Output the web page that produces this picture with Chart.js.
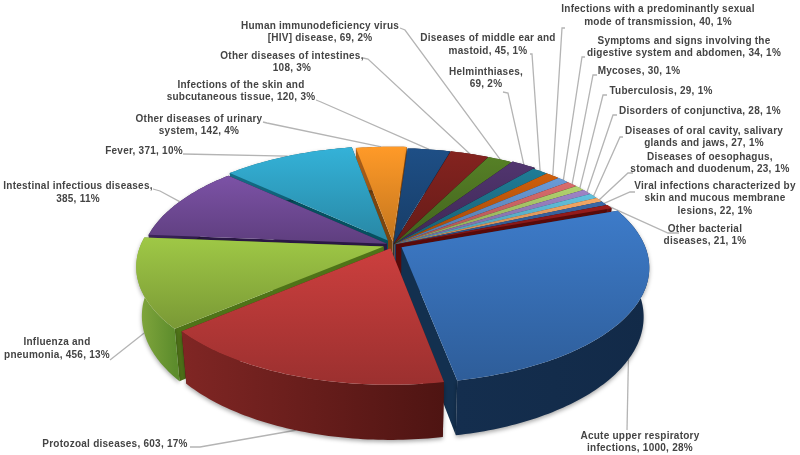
<!DOCTYPE html>
<html><head><meta charset="utf-8">
<script src="https://cdn.jsdelivr.net/npm/chart.js@4"></script>
<style>html,body{margin:0;padding:0;background:#fff}#c{display:block;filter:blur(0.35px)}</style>
</head><body><canvas id="c" width="800" height="455"></canvas>
<script>
const categories = ["Acute upper respiratory infections","Protozoal diseases","Influenza and pneumonia","Intestinal infectious diseases","Fever","Other diseases of urinary system","Infections of the skin and subcutaneous tissue","Other diseases of intestines","Human immunodeficiency virus [HIV] disease","Helminthiases","Diseases of middle ear and mastoid","Infections with a predominantly sexual mode of transmission","Symptoms and signs involving the digestive system and abdomen","Mycoses","Tuberculosis","Disorders of conjunctiva","Diseases of oral cavity, salivary glands and jaws","Diseases of oesophagus, stomach and duodenum","Viral infections characterized by skin and mucous membrane lesions","Other bacterial diseases"];
const values = [1000,603,456,385,371,142,120,108,69,69,45,40,34,30,29,28,27,23,22,21];
const labelLines = [
 ["Acute upper respiratory","infections, 1000, 28%"],
 ["Protozoal diseases, 603, 17%"],
 ["Influenza and","pneumonia, 456, 13%"],
 ["Intestinal infectious diseases,","385, 11%"],
 ["Fever, 371, 10%"],
 ["Other diseases of urinary","system, 142, 4%"],
 ["Infections of the skin and","subcutaneous tissue, 120, 3%"],
 ["Other diseases of intestines,","108, 3%"],
 ["Human immunodeficiency virus","[HIV] disease, 69, 2%"],
 ["Helminthiases,","69, 2%"],
 ["Diseases of middle ear and","mastoid, 45, 1%"],
 ["Infections with a predominantly sexual","mode of transmission, 40, 1%"],
 ["Symptoms and signs involving the","digestive system and abdomen, 34, 1%"],
 ["Mycoses, 30, 1%"],
 ["Tuberculosis, 29, 1%"],
 ["Disorders of conjunctiva, 28, 1%"],
 ["Diseases of oral cavity, salivary","glands and jaws, 27, 1%"],
 ["Diseases of oesophagus,","stomach and duodenum, 23, 1%"],
 ["Viral infections characterized by","skin and mucous membrane","lesions, 22, 1%"],
 ["Other bacterial","diseases, 21, 1%"]
];
// styles
const sliceColors = ["#3d7bc9","#cc3f3e","#9fc846","#7c52a6","#34b2d8","#ff9a28","#1e4f86","#84231f","#568026","#51356f","#1f7c96","#cf5f0c","#6a9bd8","#da6c6c","#b2d26e","#9e84c6","#62c2de","#f6a865","#3a68a8","#9a1c1c"];
const wallTints = [[20,46,78,18,42,72],[128,38,36,78,20,18],[132,168,62,92,140,44],[60,36,90,40,24,66],[20,110,135,10,80,100],[170,95,25,120,65,15],[18,48,82,12,36,62],[90,24,22,60,16,14],[60,90,28,40,64,18],[56,36,78,40,26,56],[20,84,100,14,60,72],[140,64,10,100,46,6],[70,105,145,50,76,110],[150,72,72,110,50,50],[120,142,74,90,106,54],[106,88,134,78,64,100],[66,130,150,48,96,112],[166,112,66,122,82,48],[38,70,112,28,50,84],[110,16,16,80,10,10]];
const cutWall = ["#13304f","#5a1614","#4f7318","#2a1844","#06505f","#7a4510","#10294a","#4c1210","#30481a","#2b1b40","#0f4a58","#7c3906","#38587f","#7e3c3c","#64763c","#564676","#347890","#91623a","#1f3a62","#580a0a"];
const pieOffsets = [9,7,9,6,10,7,3,3,3,5,2,2,2,2,2,2,2,2,2,3];
const rotationDeg = 70;
// label layout: centre x, first baseline y per line
const labelPos = [[640,[439,451]],[115,[447]],[57,[345,358]],[78,[189,202]],[144,[154]],[199,[122,134]],[241,[88,100]],[292,[59,71]],[320,[29,41]],[486,[75,87]],[488,[41,54]],[658,[12,25]],[684,[44,56]],[639,[74]],[661,[94]],[700,[114]],[704,[134,146]],[710,[160,172]],[715,[189,201,214]],[705,[232,244]]];
// leader polylines: anchors near text, then ending on the slice rim
const leaderAnchors = [[[627,430]],[[190,447],[200,447]],[[110,360]],[[153,189],[160,191]],[[183,154]],[[263,122],[267,123]],[[316,100],[321,102]],[[363,58],[368,59]],[[400,28],[405,30]],[[503,92],[508,93]],[[530,54],[532,54]],[[565,28],[562,28]],[[585,57],[582,57]],[[597,75],[593,75]],[[607,95],[603,95]],[[617,115],[613,115]],[[623,137],[620,137]],[[633,173],[628,173]],[[635,192],[630,192]],[[679,233],[668,233]]];
const view = {cx:393,cy:245,A:243,B:112,p:0.17,q:0.022,H:48};

function project(x,z,h){
  const s=1/(1-view.p*z),k=1-view.q*h;
  return [view.cx+view.A*x*s*k, view.cy+view.B*z*s*k+view.H*h*s];
}
function hex2rgb(c){return [1,3,5].map(i=>parseInt(c.substr(i,2),16));}
function shade(c,f){return 'rgb('+hex2rgb(c).map(v=>Math.round(v*f)).join(',')+')';}
function pathOf(ctx,pts){ctx.beginPath();pts.forEach((p,i)=>i?ctx.lineTo(p[0],p[1]):ctx.moveTo(p[0],p[1]));ctx.closePath();}

const pie3d={
  id:'pie3d',
  beforeDatasetsDraw(chart){
    const ctx=chart.ctx, arcs=chart.getDatasetMeta(0).data;
    const slices=arcs.map((el,i)=>{
      const pr=el.getProps(['startAngle','endAngle','outerRadius'],true);
      const off=el.options.offset/pr.outerRadius, mid=(pr.startAngle+pr.endAngle)/2;
      const ox=off*Math.cos(mid), oz=off*Math.sin(mid);
      return {i,a0:pr.startAngle,a1:pr.endAngle,mid,ox,oz,depth:0.66*Math.sin(mid)+oz};
    });
    chart.$slices=slices;
    // leaders sit behind the pie
    ctx.save();ctx.strokeStyle='#b4b4b4';ctx.lineWidth=1.3;
    slices.forEach(s=>{
      const h=s.i<3?1:0;
      const end=project(s.ox+Math.cos(s.mid),s.oz+Math.sin(s.mid),h);
      ctx.beginPath();
      leaderAnchors[s.i].forEach((p,j)=>j?ctx.lineTo(p[0],p[1]):ctx.moveTo(p[0],p[1]));
      ctx.lineTo(end[0],end[1]);ctx.stroke();
    });
    ctx.restore();
    slices.slice().sort((a,b)=>a.depth-b.depth).forEach(s=>drawSlice(ctx,s));
    return false;
  },
  afterDraw(chart){
    const ctx=chart.ctx;
    ctx.save();ctx.font='bold 10px "Liberation Sans"';ctx.fillStyle='#444';ctx.textAlign='center';ctx.textBaseline='alphabetic';
    if('letterSpacing' in ctx) ctx.letterSpacing='0.25px';
    labelLines.forEach((lines,i)=>lines.forEach((t,j)=>ctx.fillText(t,labelPos[i][0],labelPos[i][1][j])));
    ctx.restore();
  }
};
function drawSlice(ctx,s){
  const n=Math.max(4,Math.ceil((s.a1-s.a0)/(Math.PI/180)));
  const top=[],bot=[];
  for(let k=0;k<=n;k++){
    const a=s.a0+(s.a1-s.a0)*k/n, x=s.ox+Math.cos(a), z=s.oz+Math.sin(a);
    top.push(project(x,z,0));bot.push(project(x,z,1));
  }
  const at=project(s.ox,s.oz,0),ab=project(s.ox,s.oz,1);
  const col=sliceColors[s.i],t=wallTints[s.i];
  ctx.save();
  // radial walls
  ctx.fillStyle=cutWall[s.i];
  pathOf(ctx,[at,top[0],bot[0],ab]);ctx.fill();
  pathOf(ctx,[at,top[n],bot[n],ab]);ctx.fill();
  // outer wall
  const xs=top.map(p=>p[0]),x0=Math.min(...xs),x1=Math.max(...xs);
  const g=ctx.createLinearGradient(x0,0,x1+1,0);
  g.addColorStop(0,`rgb(${t[0]},${t[1]},${t[2]})`);g.addColorStop(1,`rgb(${t[3]},${t[4]},${t[5]})`);
  ctx.fillStyle=g;
  ctx.shadowColor='rgba(0,0,0,0.35)';ctx.shadowBlur=4;ctx.shadowOffsetY=2;
  pathOf(ctx,top.concat(bot.slice().reverse()));ctx.fill();
  ctx.shadowColor='transparent';ctx.shadowBlur=0;ctx.shadowOffsetY=0;
  // top face
  const ys=top.map(p=>p[1]).concat(at[1]),y0=Math.min(...ys),y1=Math.max(...ys);
  const tg=ctx.createLinearGradient(0,y0,0,y1+1);
  tg.addColorStop(0,col);tg.addColorStop(1,shade(col,0.76));
  ctx.fillStyle=tg;
  pathOf(ctx,[at].concat(top));ctx.fill();
  ctx.restore();
}
new Chart(document.getElementById('c'),{
  type:'pie',
  data:{labels:categories,datasets:[{data:values,backgroundColor:sliceColors,borderWidth:0,offset:pieOffsets}]},
  options:{responsive:false,animation:false,rotation:rotationDeg,layout:{padding:0},
    plugins:{legend:{display:false},tooltip:{enabled:false}}},
  plugins:[pie3d]
});
</script></body></html>
